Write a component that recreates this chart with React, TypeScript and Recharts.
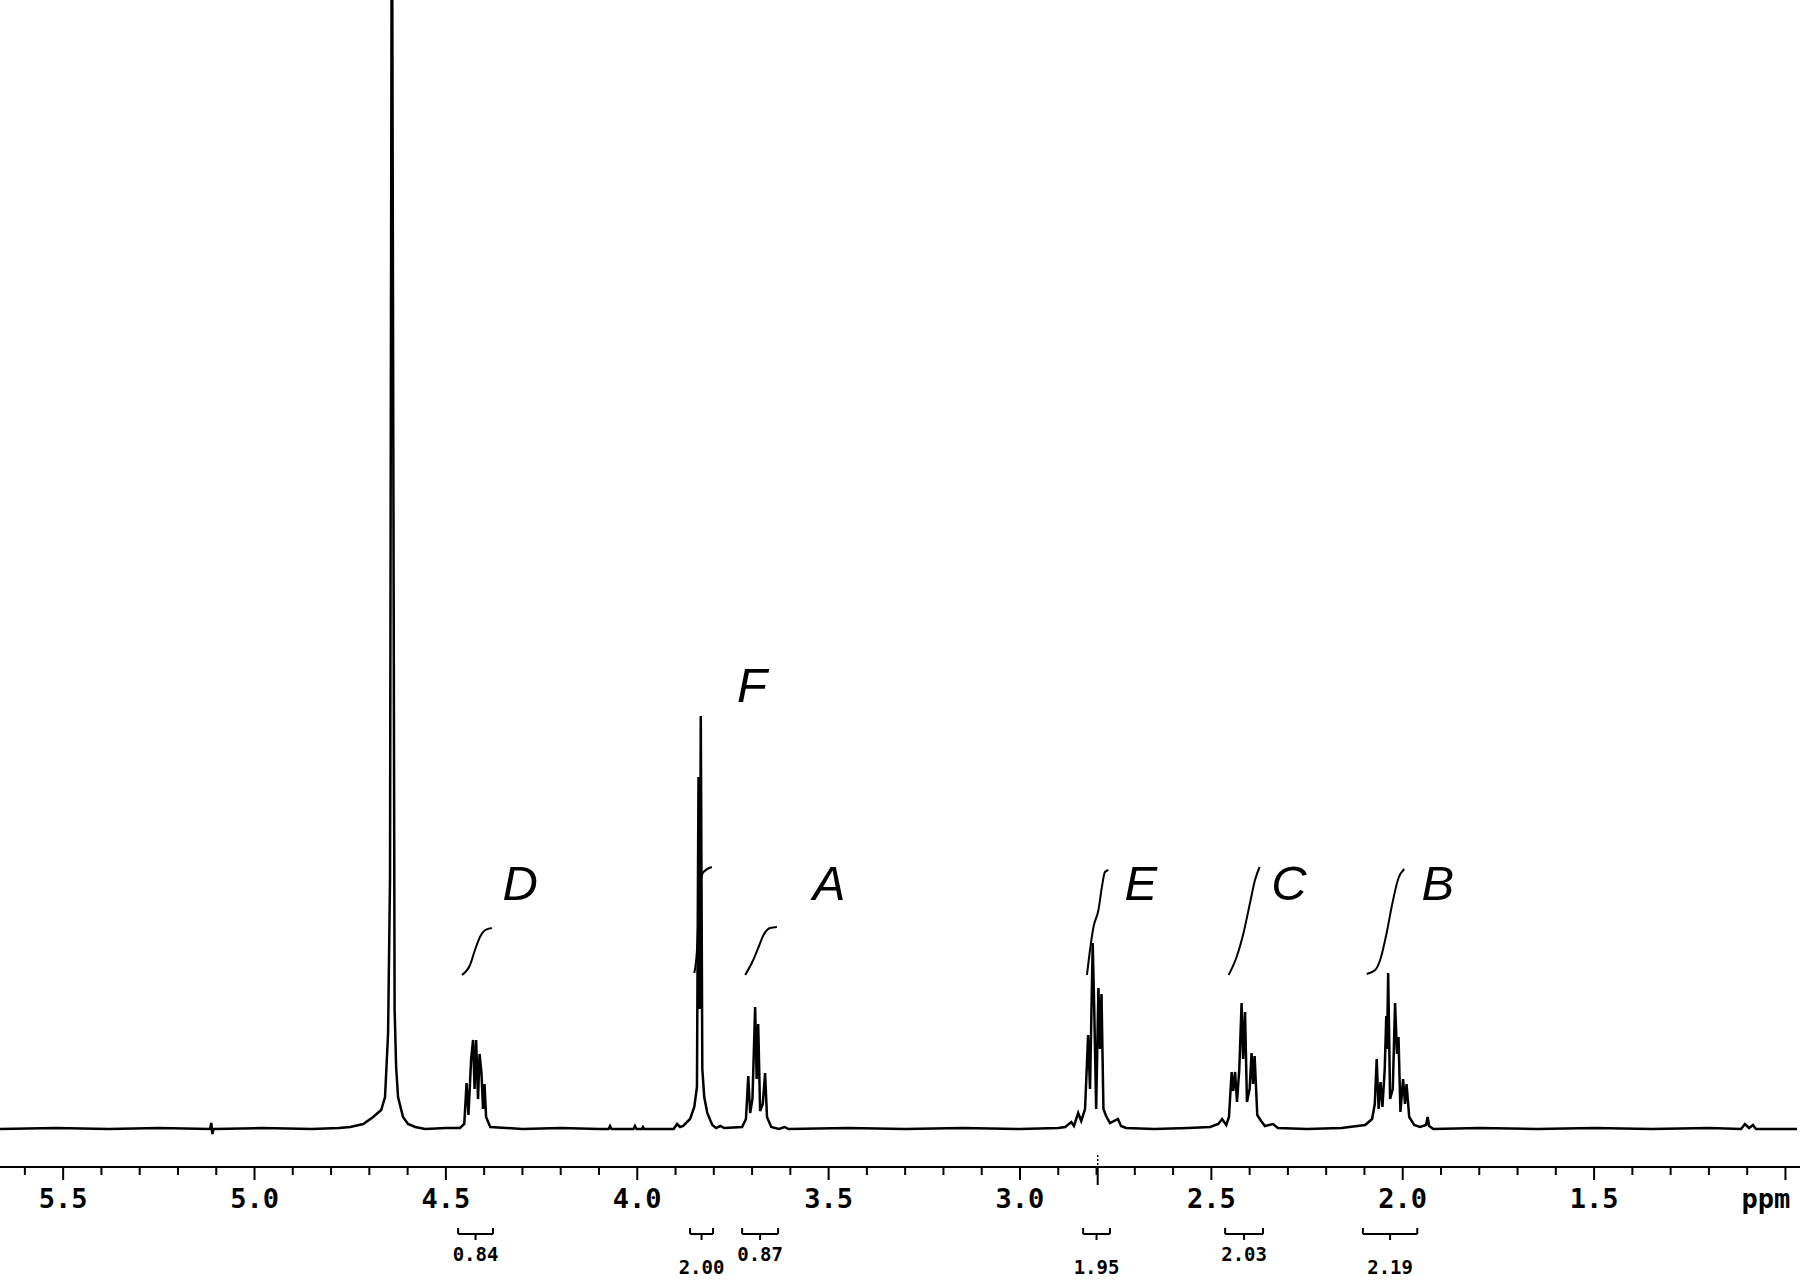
import React from 'react';
import { ComposedChart, Line, XAxis, YAxis, ReferenceLine, ReferenceDot } from 'recharts';

// spectrum trace: [ppm, height above baseline]
const SPECTRUM: [number, number][] = [
  [5.665, 0], [5.52, 1], [5.38, 0], [5.25, 1], [5.116, 0], [5.113, 6], [5.11, -5], [5.107, 0], [4.98, 1], [4.85, 0], [4.78, 1],
  // HDO
  [4.75, 2], [4.716, 5], [4.69, 12], [4.669, 19], [4.659, 32], [4.651, 96], [4.646, 250], [4.642, 1129], [4.64, 1129],
  [4.634, 120], [4.63, 62], [4.625, 32], [4.612, 12], [4.599, 5], [4.58, 2], [4.554, 0],
  // D
  [4.5, 1], [4.463, 1], [4.452, 5], [4.446, 46], [4.441, 14], [4.434, 70], [4.429, 89], [4.425, 40], [4.421, 89],
  [4.416, 30], [4.412, 75], [4.407, 56], [4.403, 20], [4.399, 45], [4.395, 12], [4.384, 2],
  [4.3, 0], [4.2, 1], [4.1, 0], [4.075, 0], [4.071, 3], [4.067, 0], [4.01, 0], [4.006, 3], [4.002, 0],
  [3.988, 0], [3.985, 2], [3.982, 0], [3.905, 0], [3.896, 5], [3.888, 2],
  // F
  [3.88, 3], [3.862, 10], [3.851, 22], [3.844, 42], [3.84, 352], [3.837, 120], [3.834, 413], [3.83, 60],
  [3.825, 32], [3.817, 16], [3.804, 4], [3.794, 1], [3.783, 3], [3.773, 1],
  // A
  [3.726, 2], [3.716, 10], [3.71, 53], [3.705, 16], [3.699, 30], [3.692, 122], [3.688, 50], [3.684, 105],
  [3.679, 18], [3.672, 25], [3.666, 56], [3.661, 12], [3.65, 2], [3.63, 0], [3.615, 2], [3.605, 0],
  [3.45, 1], [3.3, 0], [3.15, 1], [3.0, 0], [2.9, 1],
  // E
  [2.882, 2], [2.866, 7], [2.859, 3], [2.848, 16], [2.84, 8], [2.83, 20], [2.822, 94], [2.817, 40], [2.81, 186],
  [2.806, 120], [2.801, 20], [2.795, 141], [2.791, 80], [2.787, 135], [2.782, 20], [2.775, 13], [2.765, 6],
  [2.744, 10], [2.736, 3], [2.723, 1],
  [2.65, 0], [2.56, 1],
  // C
  [2.503, 2], [2.482, 5], [2.472, 10], [2.461, 4], [2.454, 12], [2.447, 57], [2.443, 38], [2.438, 57], [2.433, 27],
  [2.427, 60], [2.421, 126], [2.417, 70], [2.412, 117], [2.407, 27], [2.4, 40], [2.395, 76], [2.391, 45],
  [2.387, 73], [2.38, 14], [2.37, 8], [2.36, 3], [2.339, 5], [2.326, 1],
  [2.25, 0], [2.16, 1],
  // B
  [2.098, 4], [2.08, 10], [2.073, 25], [2.068, 70], [2.063, 20], [2.058, 47], [2.053, 22], [2.047, 60], [2.043, 113],
  [2.041, 80], [2.038, 156], [2.033, 30], [2.026, 40], [2.02, 126], [2.015, 75], [2.011, 92], [2.006, 17],
  [1.999, 50], [1.994, 25], [1.99, 45], [1.983, 12], [1.97, 4], [1.955, 2], [1.939, 4], [1.935, 12], [1.931, 3], [1.92, 0],
  [1.8, 1], [1.65, 0], [1.5, 1], [1.35, 0], [1.2, 1], [1.116, 0], [1.106, 5], [1.095, 1], [1.085, 4], [1.077, 0],
  [1.03, 0], [0.97, 0],
];

// integral traces
const INT_D: [number, number][] = [[4.458, 154], [4.437, 164], [4.424, 179], [4.411, 192], [4.397, 199], [4.38, 201]];
const INT_F: [number, number][] = [[3.851, 156], [3.844, 179], [3.84, 212], [3.836, 246], [3.827, 257], [3.805, 262]];
const INT_A: [number, number][] = [[3.718, 154], [3.697, 169], [3.683, 182], [3.67, 194], [3.653, 201], [3.635, 202]];
const INT_E: [number, number][] = [[2.825, 154], [2.817, 179], [2.808, 202], [2.795, 219], [2.786, 242], [2.778, 257], [2.769, 259]];
const INT_C: [number, number][] = [[2.455, 154], [2.434, 172], [2.416, 196], [2.399, 226], [2.386, 249], [2.374, 262]];
const INT_B: [number, number][] = [[2.094, 155], [2.072, 159], [2.059, 169], [2.042, 196], [2.029, 222], [2.011, 251], [1.996, 260]];
const INTEGRAL_TRACES = [INT_D, INT_F, INT_A, INT_E, INT_C, INT_B];

const PEAK_LETTERS = ['D', 'F', 'A', 'E', 'C', 'B'];
const PEAK_LETTER_PPM = [4.306, 3.7, 3.499, 2.684, 2.297, 1.908];
const PEAK_LETTER_H = [229, 427, 229, 229, 229, 229];

const INTEGRAL_VALUES = ['0.84', '2.00', '0.87', '1.95', '2.03', '2.19'];
const INTEGRAL_FROM = [4.468, 3.862, 3.726, 2.835, 2.464, 2.104];
const INTEGRAL_TO = [4.377, 3.802, 3.632, 2.765, 2.365, 1.962];

const PPM_TICKS = [
  5.6, 5.5, 5.4, 5.3, 5.2, 5.1, 5.0, 4.9, 4.8, 4.7, 4.6, 4.5, 4.4, 4.3, 4.2, 4.1, 4.0, 3.9, 3.8, 3.7, 3.6, 3.5,
  3.4, 3.3, 3.2, 3.1, 3.0, 2.9, 2.8, 2.7, 2.6, 2.5, 2.4, 2.3, 2.2, 2.1, 2.0, 1.9, 1.8, 1.7, 1.6, 1.5, 1.4, 1.3,
  1.2, 1.1, 1.0,
];

const toPoints = (arr: [number, number][]) => arr.map(([ppm, h]) => ({ ppm, h }));
const spectrumData = toPoints(SPECTRUM);

const MONO = 'DejaVu Sans Mono';

const PpmTick = (props: any) => {
  const { x, y, payload } = props;
  const v = payload.value;
  const major = Math.abs(v * 2 - Math.round(v * 2)) < 1e-6;
  return (
    <g>
      <line x1={x} y1={y} x2={x} y2={y + (major ? 13 : 8)} stroke="#000" strokeWidth={2} />
      {major && v > 1.2 && (
        <text x={x} y={y + 41} textAnchor="middle" fontFamily={MONO} fontWeight="bold" fontSize={27} fill="#000">
          {v.toFixed(1)}
        </text>
      )}
    </g>
  );
};

const textShape = (txt: string, size: number, family: string, italic = false, bold = false) => (p: any) => (
  <text
    x={p.cx}
    y={p.cy}
    textAnchor="middle"
    fontFamily={family}
    fontSize={size}
    fontStyle={italic ? 'italic' : 'normal'}
    fontWeight={bold ? 'bold' : 'normal'}
    fill="#000"
  >
    {txt}
  </text>
);

const App: React.FC = () => {
  return (
    <div style={{ position: 'absolute', left: 0, top: 0, width: 1800, height: 1280, background: '#fff' }}>
      <ComposedChart width={1800} height={1280} data={spectrumData} margin={{ top: 0, right: 0, left: 0, bottom: 53 }}>
        <XAxis
          dataKey="ppm"
          type="number"
          domain={[0.962, 5.665]}
          reversed
          allowDataOverflow
          ticks={PPM_TICKS}
          interval={0}
          tick={PpmTick}
          tickLine={false}
          tickSize={0}
          tickMargin={0}
          height={60}
          axisLine={{ stroke: '#000', strokeWidth: 2 }}
        />
        <YAxis hide dataKey="h" type="number" domain={[-38, 1129]} allowDataOverflow />

        <Line
          dataKey="h"
          type="linear"
          stroke="#000"
          strokeWidth={2.5}
          dot={false}
          activeDot={false}
          legendType="none"
          isAnimationActive={false}
        />

        {INTEGRAL_TRACES.map((tr, i) => (
          <Line
            key={`int-${i}`}
            data={toPoints(tr)}
            dataKey="h"
            type="monotone"
            stroke="#000"
            strokeWidth={2}
            dot={false}
            activeDot={false}
            legendType="none"
            isAnimationActive={false}
          />
        ))}

        {PEAK_LETTERS.map((l, i) => (
          <ReferenceDot
            key={`lbl-${l}`}
            x={PEAK_LETTER_PPM[i]}
            y={PEAK_LETTER_H[i]}
            ifOverflow="visible"
            shape={textShape(l, 49, 'Liberation Sans', true)}
          />
        ))}

        {/* marker at 2.80 crossing the axis */}
        <ReferenceLine segment={[{ x: 2.797, y: -26 }, { x: 2.797, y: -38 }]} stroke="#000" strokeWidth={1.5} strokeDasharray="2 2" ifOverflow="visible" />
        <ReferenceLine segment={[{ x: 2.797, y: -38 }, { x: 2.797, y: -56 }]} stroke="#000" strokeWidth={2} ifOverflow="visible" />

        {INTEGRAL_VALUES.map((val, i) => {
          const a = INTEGRAL_FROM[i];
          const b = INTEGRAL_TO[i];
          const mid = (a + b) / 2;
          return (
            <React.Fragment key={`br-${i}`}>
              <ReferenceLine segment={[{ x: a, y: -105 }, { x: b, y: -105 }]} stroke="#000" strokeWidth={2} ifOverflow="visible" />
              <ReferenceLine segment={[{ x: a, y: -105 }, { x: a, y: -99 }]} stroke="#000" strokeWidth={2} ifOverflow="visible" />
              <ReferenceLine segment={[{ x: b, y: -105 }, { x: b, y: -99 }]} stroke="#000" strokeWidth={2} ifOverflow="visible" />
              <ReferenceLine segment={[{ x: mid, y: -105 }, { x: mid, y: -111 }]} stroke="#000" strokeWidth={2} ifOverflow="visible" />
              <ReferenceDot
                x={mid}
                y={i % 2 === 0 ? -132 : -145}
                ifOverflow="visible"
                shape={textShape(val, 19, MONO, false, true)}
              />
            </React.Fragment>
          );
        })}

        <ReferenceDot x={1.051} y={-79} ifOverflow="visible" shape={textShape('ppm', 27, MONO, false, true)} />
      </ComposedChart>
    </div>
  );
};

export default App;
